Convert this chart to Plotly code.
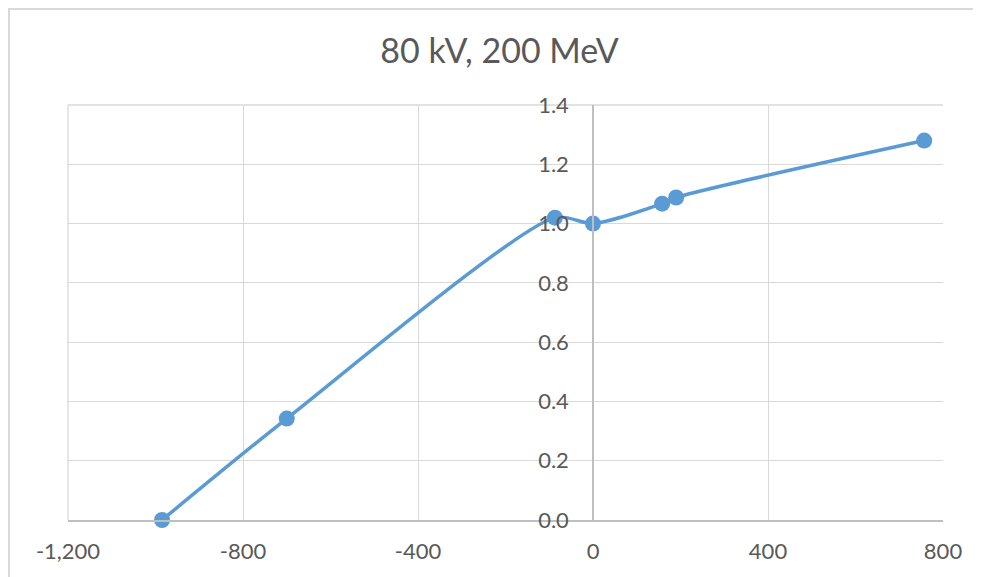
import plotly.graph_objects as go

# Data
x_values = [-985, -700, -87, 0, 158, 190, 757]
y_values = [0.0, 0.342, 1.020, 1.0, 1.067, 1.088, 1.280]

x_tickvals = [-1200, -800, -400, 0, 400, 800]
x_ticktext = ["-1,200", "-800", "-400", "0", "400", "800"]
y_tickvals = [0.0, 0.2, 0.4, 0.6, 0.8, 1.0, 1.2, 1.4]

title_text = "80 kV, 200 MeV"

# page body has an 8px margin, so the figure is offset by 8px
OFF = 8
W, H = 981 - OFF, 577 - OFF
L, R, T, B = 68 - OFF, 38, 105 - OFF, 57
pw, ph = W - L - R, H - T - B

FONT = "Lato, Carlito, Calibri, sans-serif"
TXT = "#595959"
GRID = "#d9d9d9"
AXIS = "#bfbfbf"
BLUE = "#5B9BD5"

fig = go.Figure()
fig.add_trace(go.Scatter(
    x=x_values, y=y_values, mode="lines+markers",
    line=dict(color=BLUE, width=3.5, shape="spline", smoothing=0.75),
    marker=dict(color=BLUE, size=16),
    cliponaxis=False,
    showlegend=False, hoverinfo="x+y",
))

xmin, xmax = -1200, 800
ypos = (0 - xmin) / (xmax - xmin)

fig.update_layout(
    width=W, height=H,
    margin=dict(l=L, r=R, t=T, b=B, pad=0),
    paper_bgcolor="white", plot_bgcolor="white",
    font=dict(family=FONT, color=TXT, size=22),
    title=dict(text=title_text, x=(499.5 - OFF) / W, xanchor="center",
               y=1 - (51 - OFF) / H, yanchor="middle", yref="container",
               font=dict(family=FONT, size=34, color=TXT)),
    xaxis=dict(range=[xmin, xmax], tickvals=x_tickvals, ticktext=x_ticktext,
               showgrid=True, gridcolor=GRID, gridwidth=1.3,
               zeroline=False, showline=True, linecolor=AXIS, linewidth=1.5,
               ticks="", ticklabelstandoff=11,
               tickfont=dict(family=FONT, size=22, color=TXT)),
    yaxis=dict(range=[0, 1.4], tickvals=y_tickvals, tickformat=".1f",
               showgrid=True, gridcolor=GRID, gridwidth=1.3,
               zeroline=False, showline=True, linecolor=AXIS, linewidth=1.5,
               anchor="free", position=ypos, side="left",
               ticks="", ticklabelstandoff=19,
               tickfont=dict(family=FONT, size=22, color=TXT)),
)

# edge gridlines (left and top of plot area)
fig.add_shape(type="line", xref="paper", yref="paper", x0=0, x1=0, y0=0, y1=1,
              line=dict(color=GRID, width=1.3), layer="below")
fig.add_shape(type="line", xref="paper", yref="paper", x0=0, x1=1, y0=1, y1=1,
              line=dict(color=GRID, width=1.3), layer="below")

# chart-area border
fig.add_shape(type="rect", xref="paper", yref="paper",
              x0=(1 - L) / pw, x1=(W + 5 - L) / pw,
              y0=(H - B - (H + 5)) / ph, y1=(H - B - 1) / ph,
              line=dict(color=GRID, width=2), fillcolor="rgba(0,0,0,0)",
              layer="below")

fig.write_html("out.html")
